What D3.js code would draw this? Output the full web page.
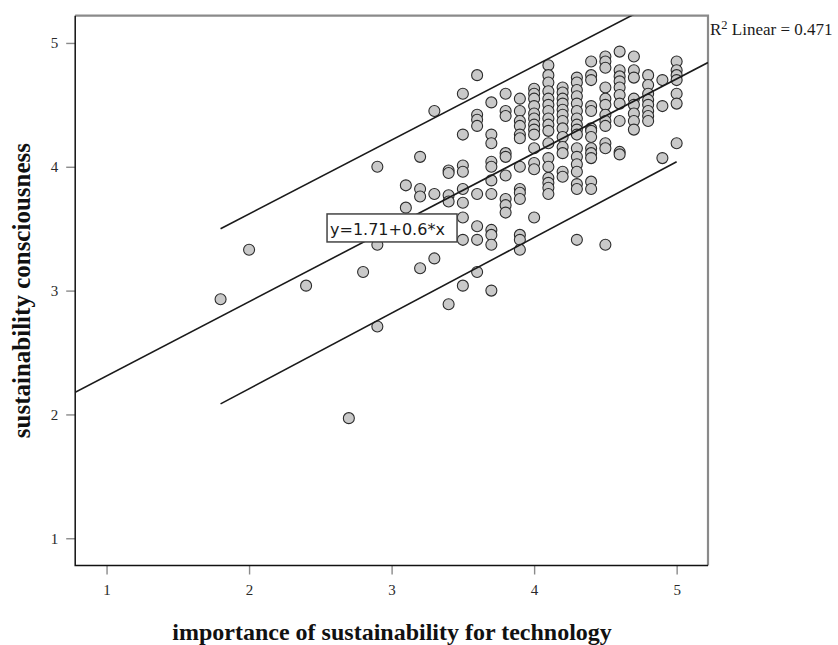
<!DOCTYPE html>
<html>
<head>
<meta charset="utf-8">
<script src="https://cdn.jsdelivr.net/npm/d3@7"></script>
<style>
  body { margin: 0; background: #fff; }
  svg { display: block; }
</style>
</head>
<body>
<svg id="chart" width="838" height="645"></svg>
<script>
// Importance of sustainability for technology: the answer levels that occur
const techLevels = [1.8, 2.0, 2.4, 2.7, 2.8, 2.9, 3.1, 3.2, 3.3, 3.4, 3.5, 3.6, 3.7, 3.8, 3.9,
                    4.0, 4.1, 4.2, 4.3, 4.4, 4.5, 4.6, 4.7, 4.8, 4.9, 5.0];

// Sustainability consciousness scores of the respondents at each level above
const consciousnessByLevel = [
  [2.93],
  [3.33],
  [3.04],
  [1.97],
  [3.15],
  [4.00, 3.37, 2.71],
  [3.85, 3.67],
  [4.08, 3.82, 3.76, 3.18],
  [4.45, 3.78, 3.26],
  [3.97, 3.95, 3.77, 3.72, 2.89],
  [4.59, 4.26, 4.01, 3.96, 3.82, 3.71, 3.59, 3.41, 3.04],
  [4.74, 4.42, 4.38, 4.33, 3.78, 3.52, 3.41, 3.15],
  [4.52, 4.26, 4.19, 4.04, 4.00, 3.89, 3.78, 3.49, 3.45, 3.37, 3.00],
  [4.59, 4.45, 4.41, 4.11, 4.08, 3.93, 3.74, 3.69, 3.63],
  [4.55, 4.45, 4.37, 4.33, 4.26, 4.23, 4.00, 3.82, 3.79, 3.74, 3.45, 3.41, 3.33],
  [4.63, 4.59, 4.55, 4.49, 4.43, 4.39, 4.34, 4.30, 4.26, 4.15, 4.03, 3.98, 3.59],
  [4.82, 4.74, 4.68, 4.61, 4.55, 4.50, 4.45, 4.39, 4.34, 4.29, 4.19, 4.07, 4.00, 3.91, 3.87, 3.83, 3.78],
  [4.64, 4.60, 4.55, 4.51, 4.46, 4.42, 4.37, 4.31, 4.24, 4.16, 4.11, 3.96, 3.92],
  [4.72, 4.68, 4.62, 4.57, 4.51, 4.45, 4.39, 4.34, 4.30, 4.26, 4.15, 4.08, 4.02, 3.96, 3.86, 3.82, 3.41],
  [4.85, 4.74, 4.70, 4.49, 4.45, 4.31, 4.29, 4.24, 4.15, 4.11, 4.07, 3.88, 3.82],
  [4.89, 4.85, 4.80, 4.64, 4.55, 4.50, 4.42, 4.37, 4.33, 4.19, 4.15, 3.37],
  [4.93, 4.78, 4.73, 4.69, 4.64, 4.58, 4.51, 4.37, 4.12, 4.10],
  [4.89, 4.78, 4.72, 4.55, 4.50, 4.43, 4.37, 4.30],
  [4.74, 4.66, 4.59, 4.54, 4.50, 4.45, 4.41, 4.37],
  [4.70, 4.49, 4.07],
  [4.85, 4.78, 4.74, 4.70, 4.59, 4.51, 4.19]
];

const xTicks = [1, 2, 3, 4, 5];
const yTicks = [1, 2, 3, 4, 5];

// Linear fit and its R squared
const fitIntercept = 1.71;
const fitSlope = 0.6;
const rSquared = 0.471;

// Prediction band for individual values
const bandX = [1.8, 5.0];
const bandUpper = [3.50, 5.41];
const bandLower = [2.085, 4.04];

const xTitle = "importance of sustainability for technology";
const yTitle = "sustainability consciousness";

// ---------------------------------------------------------------------------
const svg = d3.select("#chart");
const plot = { left: 75.2, right: 708, top: 15.7, bottom: 565.5 };
const serif = "'Liberation Serif', 'Times New Roman', Times, serif";

const x = d3.scaleLinear().domain([0.78, 5.22]).range([plot.left, plot.right]);
const y = d3.scaleLinear().domain([0.78, 5.22]).range([plot.bottom, plot.top]);

svg.append("rect").attr("width", 838).attr("height", 645).attr("fill", "#fff");

svg.append("defs").append("clipPath").attr("id", "plot-clip")
  .append("rect")
  .attr("x", plot.left).attr("y", plot.top)
  .attr("width", plot.right - plot.left).attr("height", plot.bottom - plot.top);

// Axes
const xAxis = svg.append("g")
  .attr("transform", `translate(0,${plot.bottom})`)
  .call(d3.axisBottom(x).tickValues(xTicks).tickFormat(d3.format("d")).tickSize(9).tickPadding(10));
const yAxis = svg.append("g")
  .attr("transform", `translate(${plot.left},0)`)
  .call(d3.axisLeft(y).tickValues(yTicks).tickFormat(d3.format("d")).tickSize(9).tickPadding(8));

[xAxis, yAxis].forEach(g => {
  g.select(".domain").remove();
  g.selectAll(".tick line").attr("stroke", "#8a8a8a").attr("stroke-width", 1.4);
  g.selectAll(".tick text")
    .attr("font-family", serif).attr("font-size", 15).attr("fill", "#2a2a2a");
});

// Frame: top and right in grey, the two axis lines in black
svg.append("path")
  .attr("d", `M${plot.left},${plot.top}H${plot.right}V${plot.bottom}`)
  .attr("fill", "none").attr("stroke", "#8a8a8a").attr("stroke-width", 2.2);
svg.append("path")
  .attr("d", `M${plot.left},${plot.top}V${plot.bottom}H${plot.right}`)
  .attr("fill", "none").attr("stroke", "#111").attr("stroke-width", 1.5);

// Observations
const points = techLevels.flatMap((lv, i) => consciousnessByLevel[i].map(v => ({ x: lv, y: v })));
svg.append("g").selectAll("circle")
  .data(points).join("circle")
  .attr("cx", d => x(d.x)).attr("cy", d => y(d.y))
  .attr("r", 5.5)
  .attr("fill", "#c9c9c9")
  .attr("stroke", "#2b2b2b")
  .attr("stroke-width", 1.1);

// Fit line and prediction band
const lines = svg.append("g").attr("clip-path", "url(#plot-clip)")
  .attr("fill", "none").attr("stroke", "#1a1a1a").attr("stroke-width", 1.6);
const line = d3.line().x(d => x(d[0])).y(d => y(d[1]));
const xDom = x.domain();
lines.append("path").attr("d", line(xDom.map(v => [v, fitIntercept + fitSlope * v])));
lines.append("path").attr("d", line(bandX.map((v, i) => [v, bandUpper[i]])));
lines.append("path").attr("d", line(bandX.map((v, i) => [v, bandLower[i]])));

// Equation label
const eqX = x(2.547), eqY = y(3.619);
const eq = svg.append("g").attr("transform", `translate(${eqX},${eqY})`);
eq.append("rect")
  .attr("width", 130).attr("height", 28)
  .attr("fill", "#fff").attr("stroke", "#444").attr("stroke-width", 1.5);
eq.append("text")
  .attr("x", 3).attr("y", 21)
  .attr("font-family", "'DejaVu Sans', Verdana, sans-serif").attr("font-size", 16)
  .attr("fill", "#1a1a1a")
  .text(`y=${fitIntercept}+${fitSlope}*x`);

// R squared note
const r2 = svg.append("text")
  .attr("x", plot.right + 2).attr("y", 35)
  .attr("font-family", serif).attr("font-size", 17).attr("fill", "#1a1a1a");
r2.append("tspan").text("R");
r2.append("tspan").attr("font-size", 12.5).attr("dy", -6).text("2");
r2.append("tspan").attr("dy", 6).text(` Linear = ${rSquared}`);

// Axis titles
svg.append("text")
  .attr("x", (plot.left + plot.right) / 2 + 0.5).attr("y", 640)
  .attr("text-anchor", "middle")
  .attr("font-family", serif).attr("font-weight", "bold").attr("font-size", 24)
  .attr("fill", "#111")
  .text(xTitle);
svg.append("text")
  .attr("transform", `translate(30,${(plot.top + plot.bottom) / 2}) rotate(-90)`)
  .attr("text-anchor", "middle")
  .attr("font-family", serif).attr("font-weight", "bold").attr("font-size", 25)
  .attr("fill", "#111")
  .text(yTitle);
</script>
</body>
</html>
